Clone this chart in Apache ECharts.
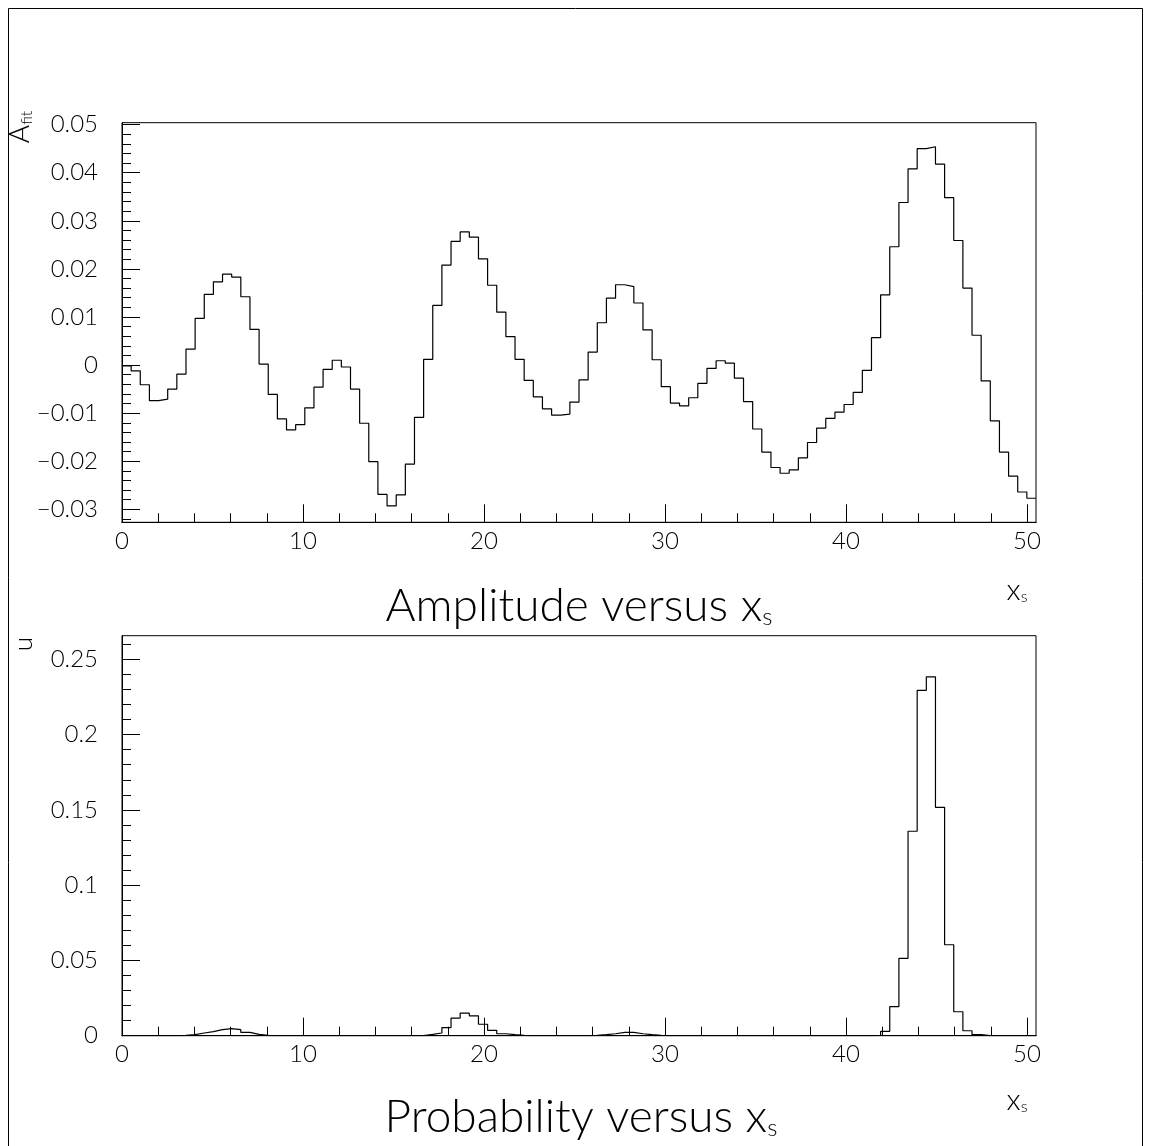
<!DOCTYPE html>
<html>
<head>
<meta charset="utf-8">
<script src="https://cdn.jsdelivr.net/npm/echarts@6/dist/echarts.min.js"></script>
<style>
html,body{margin:0;padding:0;background:#fff;}
#chart{width:1151px;height:1146px;}
</style>
</head>
<body>
<div id="chart"></div>
<script>
// ---------------- data ----------------
const xRange = [0, 50.5];
const xTickValues = [0, 10, 20, 30, 40, 50];
const xTickLabels = ['0', '10', '20', '30', '40', '50'];
const xMinorStep = 2;

// Amplitude (A_fit) per bin, 100 bins across xRange
const amplitude = [
  -0.0002, -0.0012, -0.0041, -0.0074, -0.0071, -0.0050, -0.0019, 0.0033, 0.0097, 0.0147,
   0.0173,  0.0189,  0.0183,  0.0142,  0.0074,  0.0002, -0.0061, -0.0112, -0.0135, -0.0124,
  -0.0089, -0.0046, -0.0009,  0.0010, -0.0004, -0.0050, -0.0121, -0.0201, -0.0269, -0.0293,
  -0.0270, -0.0206, -0.0109,  0.0012,  0.0124,  0.0208,  0.0257,  0.0277,  0.0266,  0.0221,
   0.0166,  0.0110,  0.0059,  0.0012, -0.0032, -0.0066, -0.0091, -0.0104, -0.0102, -0.0077,
  -0.0031,  0.0027,  0.0088,  0.0139,  0.0167,  0.0163,  0.0129,  0.0073,  0.0011, -0.0045,
  -0.0079, -0.0085, -0.0068, -0.0038, -0.0007,  0.0009,  0.0004, -0.0027, -0.0076, -0.0133,
  -0.0181, -0.0213, -0.0225, -0.0218, -0.0193, -0.0161, -0.0131, -0.0111, -0.0098, -0.0082,
  -0.0057, -0.0011,  0.0057,  0.0146,  0.0246,  0.0338,  0.0408,  0.0450,  0.0454,  0.0418,
   0.0348,  0.0259,  0.0160,  0.0062, -0.0033, -0.0116, -0.0181, -0.0231, -0.0264, -0.0277
];

// Probability (u) per bin
const probability = [
  0, 0, 0, 0, 0, 0.0001, 0.0002, 0.0007, 0.0018, 0.0027,
  0.0040, 0.0047, 0.0040, 0.0022, 0.0009, 0.0002, 0, 0, 0, 0,
  0, 0, 0, 0, 0, 0, 0, 0, 0, 0,
  0, 0, 0.0001, 0.0009, 0.0018, 0.0054, 0.0117, 0.0150, 0.0132, 0.0076,
  0.0036, 0.0013, 0.0007, 0.0002, 0, 0, 0, 0, 0, 0,
  0, 0.0002, 0.0007, 0.0013, 0.0022, 0.0022, 0.0013, 0.0007, 0.0002, 0,
  0, 0, 0, 0, 0, 0.0001, 0, 0, 0, 0,
  0, 0, 0, 0, 0, 0, 0, 0, 0, 0,
  0, 0, 0.0003, 0.0029, 0.0193, 0.0514, 0.1358, 0.2294, 0.2384, 0.1517,
  0.0604, 0.0159, 0.0033, 0.0007, 0.0001, 0, 0, 0, 0, 0
];

const ampRange = [-0.0327, 0.0504];
const ampTickValues = [-0.03, -0.02, -0.01, 0, 0.01, 0.02, 0.03, 0.04, 0.05];
const ampTickLabels = ['\u22120.03', '\u22120.02', '\u22120.01', '0', '0.01', '0.02', '0.03', '0.04', '0.05'];
const ampMinorStep = 0.002;

const probRange = [0, 0.2657];
const probTickValues = [0, 0.05, 0.1, 0.15, 0.2, 0.25];
const probTickLabels = ['0', '0.05', '0.1', '0.15', '0.2', '0.25'];
const probMinorStep = 0.01;

const titleTop = 'Amplitude versus x';
const titleBottom = 'Probability versus x';
const xAxisTitle = 'x';
const subS = 's';
const yTitleTop = 'A';
const yTitleTopSub = 'fit';
const yTitleBottom = 'u';

// ---------------- styling ----------------
const FONT = "Lato, 'Open Sans', 'DejaVu Sans', sans-serif";
const FW = 300;
const BLACK = '#000';

function histPoints(vals, range) {
  const bw = (range[1] - range[0]) / vals.length;
  const pts = vals.map((v, i) => [range[0] + i * bw, v]);
  pts.push([range[1], vals[vals.length - 1]]);
  return pts;
}
function minorTicks(range, step) {
  const out = [];
  const k0 = Math.ceil(range[0] / step - 1e-6), k1 = Math.floor(range[1] / step + 1e-6);
  for (let k = k0; k <= k1; k++) out.push(+(k * step).toFixed(6));
  return out;
}
function labelFmt(values, labels) {
  return function (v) {
    for (let i = 0; i < values.length; i++) {
      if (Math.abs(v - values[i]) < 1e-9) return labels[i];
    }
    return '';
  };
}

const panels = [
  { top: 122.7, height: 399.6, yRange: ampRange, minor: ampMinorStep,
    yVals: ampTickValues, yLabs: ampTickLabels, data: amplitude },
  { top: 635.7, height: 400, yRange: probRange, minor: probMinorStep,
    yVals: probTickValues, yLabs: probTickLabels, data: probability }
];

const grid = [], xAxis = [], yAxis = [], series = [];
const labelStyle = { color: BLACK, fontFamily: FONT, fontWeight: FW, fontSize: 24 };
panels.forEach((p, gi) => {
  grid.push({ left: 122, top: p.top, width: 914, height: p.height,
    show: true, borderColor: BLACK, borderWidth: 1, backgroundColor: 'transparent' });
  const common = { type: 'value', gridIndex: gi, splitLine: { show: false },
    axisLine: { show: true, onZero: false, lineStyle: { color: BLACK, width: 1 } } };
  // x minor ticks
  xAxis.push(Object.assign({}, common, { position: 'bottom', min: xRange[0], max: xRange[1],
    axisTick: { show: true, inside: true, length: 9, lineStyle: { color: BLACK },
      customValues: minorTicks(xRange, xMinorStep) },
    axisLabel: { show: false } }));
  // x major ticks + labels
  xAxis.push(Object.assign({}, common, { position: 'bottom', min: xRange[0], max: xRange[1],
    axisTick: { show: true, inside: true, length: 18, lineStyle: { color: BLACK },
      customValues: xTickValues },
    axisLabel: Object.assign({ show: true, margin: 7, customValues: xTickValues,
      formatter: labelFmt(xTickValues, xTickLabels) }, labelStyle) }));
  // y minor ticks
  yAxis.push(Object.assign({}, common, { position: 'left', min: p.yRange[0], max: p.yRange[1],
    axisTick: { show: true, inside: true, length: 9, lineStyle: { color: BLACK },
      customValues: minorTicks(p.yRange, p.minor) },
    axisLabel: { show: false } }));
  // y major ticks + labels
  yAxis.push(Object.assign({}, common, { position: 'left', min: p.yRange[0], max: p.yRange[1],
    axisTick: { show: true, inside: true, length: 18, lineStyle: { color: BLACK },
      customValues: p.yVals },
    axisLabel: Object.assign({ show: true, margin: 24, customValues: p.yVals,
      formatter: labelFmt(p.yVals, p.yLabs) }, labelStyle) }));
  series.push({ type: 'line', xAxisIndex: gi * 2, yAxisIndex: gi * 2, step: 'end',
    data: histPoints(p.data, xRange), symbol: 'none', showSymbol: false,
    lineStyle: { color: BLACK, width: 1.2 }, silent: true, clip: true });
});

const richSub = {
  s: { fontSize: 24, fontFamily: FONT, fontWeight: FW, fill: BLACK, color: BLACK, padding: [22, 0, 0, 0] }
};
const richAxis = {
  t: { fontSize: 16, fontFamily: FONT, fontWeight: FW, fill: BLACK, padding: [14, 0, 0, 0] }
};

const chart = echarts.init(document.getElementById('chart'), null, { renderer: 'canvas' });
chart.setOption({
  animation: false,
  backgroundColor: '#fff',
  grid, xAxis, yAxis, series,
  graphic: [
    { type: 'rect', silent: true, shape: { x: 8.5, y: 8.5, width: 1134, height: 1200 },
      style: { fill: null, stroke: BLACK, lineWidth: 1 } },
    { type: 'text', x: 579, y: 606, silent: true,
      style: { text: titleTop + '{s|' + subS + '}', fontSize: 46, fontFamily: FONT, fontWeight: FW,
        fill: BLACK, align: 'center', verticalAlign: 'middle', rich: richSub } },
    { type: 'text', x: 581, y: 1117, silent: true,
      style: { text: titleBottom + '{s|' + subS + '}', fontSize: 46, fontFamily: FONT, fontWeight: FW,
        fill: BLACK, align: 'center', verticalAlign: 'middle', rich: richSub } },
    { type: 'text', x: 1017, y: 590, silent: true,
      style: { text: xAxisTitle + '{t|' + subS + '}', fontSize: 30, fontFamily: FONT, fontWeight: FW,
        fill: BLACK, align: 'center', verticalAlign: 'middle', rich: richAxis } },
    { type: 'text', x: 1017, y: 1100, silent: true,
      style: { text: xAxisTitle + '{t|' + subS + '}', fontSize: 30, fontFamily: FONT, fontWeight: FW,
        fill: BLACK, align: 'center', verticalAlign: 'middle', rich: richAxis } },
    { type: 'text', x: 20, y: 127, rotation: Math.PI / 2, silent: true,
      style: { text: yTitleTop + '{f|' + yTitleTopSub + '}', fontSize: 28, fontFamily: FONT, fontWeight: FW,
        fill: BLACK, align: 'center', verticalAlign: 'middle',
        rich: { f: { fontSize: 16, fontFamily: FONT, fontWeight: FW, fill: BLACK, padding: [14, 0, 0, 0] } } } },
    { type: 'text', x: 24, y: 644, rotation: Math.PI / 2, silent: true,
      style: { text: yTitleBottom, fontSize: 26, fontFamily: FONT, fontWeight: FW,
        fill: BLACK, align: 'center', verticalAlign: 'middle' } }
  ]
});
</script>
</body>
</html>
